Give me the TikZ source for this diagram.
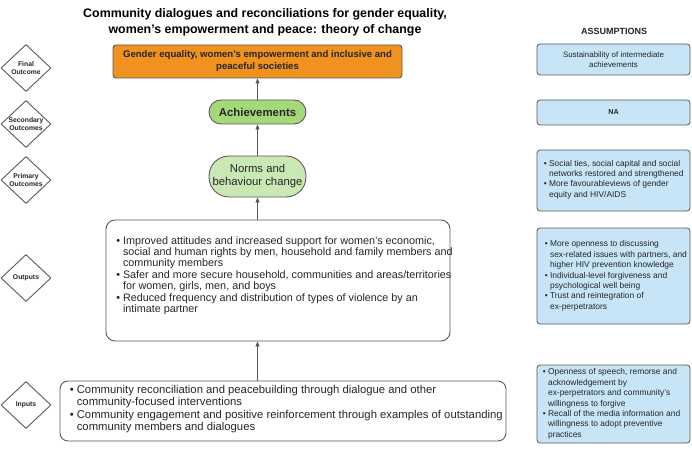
\documentclass[tikz,border=0pt]{standalone}
\usepackage{fontspec}
\setmainfont{Liberation Sans}
\usetikzlibrary{shapes.geometric,arrows.meta}
\definecolor{orangefill}{HTML}{F0921F}
\definecolor{achfill}{HTML}{A5D879}
\definecolor{normfill}{HTML}{C9E8B3}
\definecolor{bluefill}{HTML}{C7E5F6}
\definecolor{edgecol}{HTML}{5A5A5A}
\definecolor{txt}{HTML}{262626}
\newcommand\myb{\textbullet\ }
\newcommand\myi{\hphantom{\textbullet\ }}
\begin{document}
\begin{tikzpicture}[x=1pt,y=-1pt,
  box/.style={draw=edgecol,line width=0.9pt,inner sep=0pt,text=txt},
  dia/.style={draw=edgecol,line width=0.9pt,diamond,inner sep=0pt,minimum width=50pt,minimum height=47pt},
  dlabel/.style={text=txt,align=center,font=\bfseries\fontsize{6.8}{7.8}\selectfont,inner sep=0pt},
  asm/.style={box,fill=bluefill,line width=0.8pt,rounded corners=3pt,minimum width=153pt},
  body/.style={anchor=west,inner sep=0pt,align=left,text=txt},
  arr/.style={draw=edgecol,line width=0.8pt,-{Triangle[length=5pt,width=4pt]}}
]
\useasboundingbox (0,0) rectangle (692,454);
\fill[white] (0,0) rectangle (692,454);

% title
\node (title) at (265,22.5) [align=center,font=\bfseries\fontsize{12.4}{15.5}\selectfont,inner sep=0pt]
  {Community dialogues and reconciliations for gender equality,\\women's empowerment and peace: theory of change};
\node (asmtitle) at (614,31) [font=\bfseries\fontsize{9}{10}\selectfont,text=txt,inner sep=0pt] {ASSUMPTIONS};

% level diamonds
\node (d1) at (26,68) [dia] {};
\node (d1t) at (d1) [dlabel] {Final\\Outcome};
\node (d2) at (26,124) [dia] {};
\node (d2t) at (d2) [dlabel] {Secondary\\Outcomes};
\node (d3) at (26,180) [dia] {};
\node (d3t) at (d3) [dlabel] {Primary\\Outcomes};
\node (d4) at (26,278) [dia] {};
\node (d4t) at (d4) [dlabel] {Outputs};
\node (d5) at (26,405) [dia] {};
\node (d5t) at (d5) [dlabel] {Inputs};

% main column
\node (final) at (257.5,61.5) [box,fill=orangefill,rounded corners=3pt,minimum width=289pt,minimum height=33pt,
  align=center,font=\bfseries\fontsize{9.6}{12}\selectfont]
  {Gender equality, women's empowerment and inclusive and\\peaceful societies};
\node (ach) at (257.5,112) [box,fill=achfill,rounded corners=12pt,minimum width=97pt,minimum height=24pt,
  font=\bfseries\fontsize{11.4}{13}\selectfont] {Achievements};
\node (norms) at (257.5,176.5) [box,fill=normfill,rounded corners=20pt,minimum width=97pt,minimum height=41pt,
  align=center,font=\fontsize{11.3}{13}\selectfont] {Norms and\\behaviour change};
\node (outputs) at (278,280.5) [box,fill=white,rounded corners=9pt,minimum width=344pt,minimum height=121pt] {};
\node (outputst) at ([xshift=10.5pt,yshift=5pt]outputs.west) [body,font=\fontsize{10.8}{11.4}\selectfont]
  {\myb Improved attitudes and increased support for women's economic,\\
   \myi social and human rights by men, household and family members and\\
   \myi community members\\
   \myb Safer and more secure household, communities and areas/territories\\
   \myi for women, girls, men, and boys\\
   \myb Reduced frequency and distribution of types of violence by an\\
   \myi intimate partner};
\node (inputs) at (283,411) [box,fill=white,rounded corners=8pt,minimum width=446pt,minimum height=60pt] {};
\node (inputst) at ([xshift=10pt,yshift=2pt]inputs.west) [body,font=\fontsize{11.3}{12.2}\selectfont]
  {\myb Community reconciliation and peacebuilding through dialogue and other\\
   \myi community-focused interventions\\
   \myb Community engagement and positive reinforcement through examples of outstanding\\
   \myi community members and dialogues};

% connectors
\draw[arr] (norms.south |- inputs.north) -- (norms.south |- outputs.south);
\draw[arr] (norms.south |- outputs.north) -- (norms.south);
\draw[arr] (norms.north) -- (ach.south);
\draw[arr] (ach.north) -- (ach.north |- final.south);

% assumptions
\node (a1) at (613.5,59.5) [asm,minimum height=31pt,align=center,font=\fontsize{7.9}{10}\selectfont]
  {Sustainability of intermediate\\achievements};
\node (a2) at (613.5,112.5) [asm,minimum height=25pt,font=\bfseries\fontsize{7.2}{8}\selectfont] {NA};
\node (a3) at (613.5,180.5) [asm,minimum height=61pt] {};
\node (a3t) at ([xshift=7pt,yshift=1pt]a3.west) [body,font=\fontsize{8.4}{10.4}\selectfont]
  {\myb Social ties, social capital and social\\
   \myi networks restored and strengthened\\
   \myb More favourableviews of gender\\
   \myi equity and HIV/AIDS};
\node (a4) at (613.5,276) [asm,minimum height=96pt] {};
\node (a4t) at ([xshift=8pt]a4.west) [body,font=\fontsize{8.4}{10.4}\selectfont]
  {\myb More openness to discussing\\
   \myi sex-related issues with partners, and\\
   \myi higher HIV prevention knowledge\\
   \myb Individual-level forgiveness and\\
   \myi psychological well being\\
   \myb Trust and reintegration of\\
   \myi ex-perpetrators};
\node (a5) at (613.5,404) [asm,minimum height=78pt] {};
\node (a5t) at ([xshift=6pt]a5.west) [body,font=\fontsize{8.4}{10.4}\selectfont]
  {\myb Openness of speech, remorse and\\
   \myi acknowledgement by\\
   \myi ex-perpetrators and community's\\
   \myi willingness to forgive\\
   \myb Recall of the media information and\\
   \myi willingness to adopt preventive\\
   \myi practices};
\end{tikzpicture}
\end{document}
